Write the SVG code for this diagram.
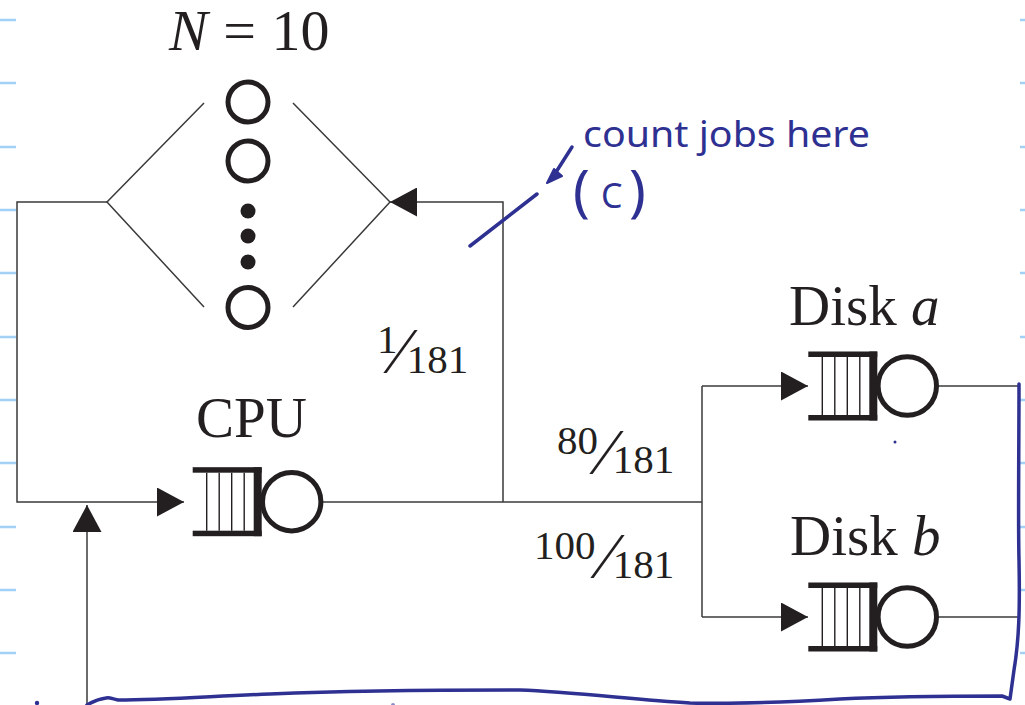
<svg xmlns="http://www.w3.org/2000/svg" width="1025" height="705" viewBox="0 0 1025 705">
<style>
.ln{fill:none;stroke:#3a3a3a;stroke-width:1.5}
.lbl{font-family:"Liberation Serif","Times New Roman",serif;fill:#231f20}
.big{font-size:57px}
.frac{font-size:41px}
.sl{font-size:66px}
.ink{fill:none;stroke:#2e3192;stroke-width:3.5;stroke-linecap:round;stroke-linejoin:round}
.hand{font-family:"Noto Sans","Liberation Sans",sans-serif;fill:#2e3192}
.tick{stroke:#a3d1f5;stroke-width:2.5}
.job{fill:none;stroke:#231f20;stroke-width:5}
</style>
<defs>
<marker id="ah" viewBox="0 0 27 29" refX="27" refY="14.5" markerWidth="27" markerHeight="29" markerUnits="userSpaceOnUse" orient="auto">
<path d="M0,0L27,14.5L0,29z" fill="#231f20"/>
</marker>
<g id="queue">
<rect x="0" y="-34.5" width="69" height="5.5" fill="#231f20"/>
<rect x="0" y="29" width="69" height="5.5" fill="#231f20"/>
<rect x="61" y="-34.5" width="8" height="69" fill="#231f20"/>
<path d="M14,-29V29M26.5,-29V29M39,-29V29M51.5,-29V29" stroke="#231f20" stroke-width="1.4"/>
<circle cx="99" cy="0" r="29.2" fill="#fff" stroke="#231f20" stroke-width="5"/>
</g>
</defs>
<rect width="1025" height="705" fill="#fff"/>
<g id="ruler">
<path class="tick" d="M0,20H16M0,83H16M0,147H16M0,210H16M0,273H16M0,337H16M0,400H16M0,463H16M0,527H16M0,590H16M0,653H16"/>
<path class="tick" d="M1020,20H1025M1020,83H1025M1020,147H1025M1020,210H1025M1020,273H1025M1020,337H1025M1020,400H1025M1020,463H1025M1020,527H1025M1020,590H1025M1020,653H1025"/>
</g>
<g id="connectors">
<path class="ln" d="M107,202H17V502H184" marker-end="url(#ah)"/>
<path class="ln" d="M87,705V505" marker-end="url(#ah)"/>
<path class="ln" d="M323,502H702"/>
<path class="ln" d="M503,502V202H390" marker-end="url(#ah)"/>
<path class="ln" d="M702,386V617"/>
<path class="ln" d="M702,386H808" marker-end="url(#ah)"/>
<path class="ln" d="M702,617H808" marker-end="url(#ah)"/>
<path class="ln" d="M938,386H1020"/>
<path class="ln" d="M938,617H1020"/>
</g>
<g id="think">
<text class="lbl" x="169" y="50" font-size="58" word-spacing="1"><tspan font-style="italic">N</tspan> = 10</text>
<path class="ln" d="M204,103L107,202L204,307M293,103L390,202L293,307"/>
<circle class="job" cx="248" cy="102" r="20"/>
<circle class="job" cx="248" cy="161" r="20"/>
<circle cx="248" cy="211" r="7.5" fill="#231f20"/>
<circle cx="248" cy="236" r="7.5" fill="#231f20"/>
<circle cx="248" cy="262" r="7.5" fill="#231f20"/>
<circle class="job" cx="248" cy="307.5" r="20"/>
</g>
<g id="cpu">
<text class="lbl big" x="196" y="437">CPU</text>
<use href="#queue" x="192.7" y="501.7"/>
</g>
<g id="diskA">
<text class="lbl big" x="789" y="325">Disk <tspan font-style="italic">a</tspan></text>
<use href="#queue" x="808.3" y="386"/>
</g>
<g id="diskB">
<text class="lbl big" x="790" y="555">Disk <tspan font-style="italic">b</tspan></text>
<use href="#queue" x="808.3" y="617"/>
</g>
<g id="labels">
<text class="lbl frac"><tspan x="377" y="353">1</tspan><tspan class="sl" x="395" y="373">⁄</tspan><tspan x="406.7" y="373.3">181</tspan></text>
<text class="lbl frac"><tspan x="557" y="454">80</tspan><tspan class="sl" x="601" y="474">⁄</tspan><tspan x="612.7" y="473.3">181</tspan></text>
<text class="lbl frac"><tspan x="534" y="559">100</tspan><tspan class="sl" x="602" y="578">⁄</tspan><tspan x="612.7" y="578.3">181</tspan></text>
</g>
<g id="annotation">
<text class="hand" x="583" y="147" font-size="36" textLength="287" lengthAdjust="spacingAndGlyphs">count jobs here</text>
<text class="hand"><tspan x="573" y="211" font-size="56">(</tspan><tspan x="601" y="208" font-size="34">C</tspan><tspan x="629" y="211" font-size="56">)</tspan></text>
<path class="ink" d="M572,147L551,180"/>
<path d="M547,183L554,169L562,176z" fill="#2e3192" stroke="#2e3192" stroke-width="2" stroke-linejoin="round"/>
<path class="ink" d="M470,246L537,194"/>
<path class="ink" d="M1019,384C1019,450 1018,520 1019,560C1020,610 1019,640 1014,670L1010,699L1002,696C940,696 880,697 840,699C790,702 730,704 690,703C630,699 570,692 520,690C420,690 320,692 270,694C200,697 160,700 118,700C112,699 110,697 106,698C98,699 92,702 87,705"/>
<circle cx="37" cy="703" r="2.2" fill="#2e3192"/>
<circle cx="393" cy="705" r="2" fill="#8a8cc8"/>
<circle cx="895" cy="442" r="1.5" fill="#2e3192"/>
</g>
</svg>
